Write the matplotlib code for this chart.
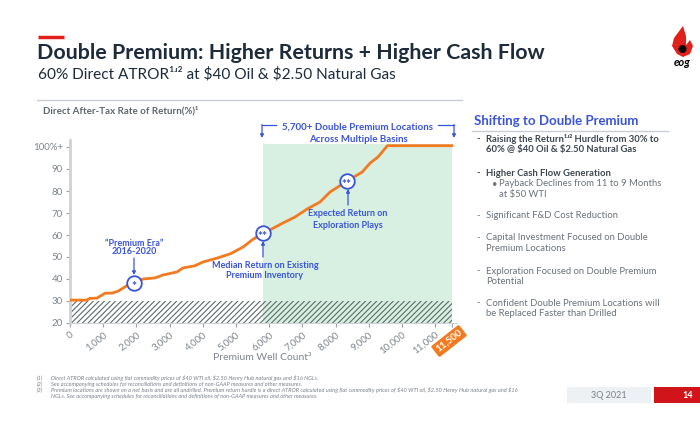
import matplotlib

matplotlib.use("Agg")
import matplotlib.pyplot as plt
from matplotlib.patches import Circle, FancyBboxPatch, PathPatch
from matplotlib.path import Path

plt.rcParams["font.family"] = ["Lato", "DejaVu Sans"]
plt.rcParams["hatch.linewidth"] = 0.8
plt.rcParams["text.parse_math"] = False

# premium well count vs direct ATROR (%)
well_count = [0, 500, 600, 810, 1050, 1270, 1450, 1750, 1930, 2200, 2560, 2800,
              3220, 3400, 3760, 4000, 4430, 4820, 5210, 5480, 5810, 6020, 6420,
              6780, 7140, 7530, 7830, 8340, 8800, 9040, 9280, 9560, 11500]
atror = [30.4, 30.4, 31.2, 31.3, 33.5, 33.6, 34.5, 37.3, 38.2, 40.0, 40.5, 41.8,
         43.2, 45.0, 46.0, 47.7, 49.5, 51.4, 54.5, 57.7, 61.0, 62.3, 65.5,
         68.2, 71.8, 75.0, 79.5, 84.5, 88.6, 92.7, 95.5, 100.6, 100.6]

x_ticks = list(range(0, 11001, 1000))
x_labels = [f"{v:,}" for v in x_ticks]
y_ticks = [20, 30, 40, 50, 60, 70, 80, 90, 100]
y_labels = ["20", "30", "40", "50", "60", "70", "80", "90", "100%+"]

double_premium_start = 5800
total_wells = 11500
hurdle_old = 30

markers = [  # (well count, return, stars)
    (1930, 38.2, "*"),
    (5810, 61.0, "**"),
    (8340, 84.5, "**"),
]

bullets = [
    ("-", ["Raising the Return\u00b9\u02b4\u00b2 Hurdle from 30% to",
           "60% @ $40 Oil & $2.50 Natural Gas"], True),
    ("-", ["Higher Cash Flow Generation"], True),
    ("\u2022", ["Payback Declines from 11 to 9 Months", "at $50 WTI"], False),
    ("-", ["Significant F&D Cost Reduction"], False),
    ("-", ["Capital Investment Focused on Double", "Premium Locations"], False),
    ("-", ["Exploration Focused on Double Premium", "Potential"], False),
    ("-", ["Confident Double Premium Locations will",
           "be Replaced Faster than Drilled"], False),
]
bullet_y = [139, 173, 184, 216, 238, 271, 303]

footnotes = [
    ("(1)", "Direct ATROR calculated using flat commodity prices of $40 WTI oil, $2.50 Henry Hub natural gas and $16 NGLs."),
    ("(2)", "See accompanying schedules for reconciliations and definitions of non-GAAP measures and other measures."),
    ("(3)", "Premium locations are shown on a net basis and are all undrilled. Premium return hurdle is a direct ATROR calculated using flat commodity prices of $40 WTI oil, $2.50 Henry Hub natural gas and $16"),
    ("", "NGLs. See accompanying schedules for reconciliations and definitions of non-GAAP measures and other measures."),
]

NAVY = "#1d2b3b"
GRAY = "#7d858d"
BLUE = "#3a54d6"
ORANGE = "#f37a1f"
GREEN = "#d7f0e2"

W, H = 700, 424
fig = plt.figure(figsize=(W / 100, H / 100), dpi=100)

# main chart axes: x 0 -> px 70, 33.2 px per 1000 wells; y 20 -> px 323, 2.2 px per pt
x_max = 11650
y_min, y_max = 20, 103
ax_left, ax_bottom = 70, 323
ax_w = x_max / 1000 * 33.2
ax_h = (y_max - y_min) * 2.2
ax = fig.add_axes([ax_left / W, 1 - ax_bottom / H, ax_w / W, ax_h / H])
ax.set_xlim(0, x_max)
ax.set_ylim(y_min, y_max)
ax.patch.set_alpha(0)

# overlay in pixel coordinates for the slide text
bg = fig.add_axes([0, 0, 1, 1])
bg.set_xlim(0, W)
bg.set_ylim(H, 0)
bg.axis("off")
bg.set_zorder(10)

ax.fill_between([double_premium_start, total_wells], y_min, 101.4,
                color=GREEN, lw=0, zorder=0)
ax.fill_between([0, total_wells], y_min, hurdle_old, facecolor="none",
                edgecolor="#5d6a6a", hatch="//////", lw=0, zorder=1)
ax.plot(well_count, atror, color=ORANGE, lw=2, zorder=3, solid_joinstyle="round")

for x, y, stars in markers:
    ax.scatter([x], [y], s=110, facecolor="white", edgecolor=BLUE, lw=1.3, zorder=4)
    ax.text(x, y - 1.6, stars, color=BLUE, fontsize=8.5, fontweight="bold",
            ha="center", va="center", zorder=5)

for side in ("top", "right"):
    ax.spines[side].set_visible(False)
ax.spines["left"].set_color("#cfd3d6")
ax.spines["left"].set_linewidth(2)
ax.spines["bottom"].set_color("#cfd3d6")
ax.spines["bottom"].set_linewidth(0.8)
ax.set_yticks(y_ticks)
ax.set_yticklabels(y_labels)
ax.set_xticks(x_ticks + [total_wells])
ax.set_xticklabels(x_labels + [""])
ax.tick_params(axis="y", colors="#9aa0a6", labelcolor=GRAY, labelsize=7,
               length=3, width=0.8, pad=2)
ax.tick_params(axis="x", colors="#9aa0a6", labelcolor=GRAY, labelsize=7,
               length=3, width=0.8, pad=2)
ax.get_xticklines()[-2].set_color(ORANGE)
for lab in ax.get_xticklabels():
    lab.set_rotation(38)
    lab.set_ha("right")
    lab.set_rotation_mode("anchor")

# header
bg.plot([38, 64], [37, 37], color="#e0201b", lw=2.5, solid_capstyle="butt")
bg.text(37, 53, "Double Premium: Higher Returns + Higher Cash Flow", fontsize=15.4,
        fontweight="bold", color=NAVY, va="center")
bg.text(38, 74, "60% Direct ATROR\u00b9\u02b4\u00b2 at $40 Oil & $2.50 Natural Gas",
        fontsize=11.1, color=NAVY, va="center")

# logo: flame + drop + eog
flame = Path([(683, 26), (674, 38), (672, 46), (677, 54), (683, 57), (690, 54),
              (693, 46), (690, 40), (686, 45), (686, 36), (683, 26)],
             [Path.MOVETO] + [Path.LINETO] * 9 + [Path.CLOSEPOLY])
bg.add_patch(PathPatch(flame, facecolor="#e0201b", edgecolor="none"))
bg.add_patch(Circle((682.5, 49), 4, facecolor="black", edgecolor="none"))
bg.text(682, 63, "eog", fontsize=8, fontweight="bold", style="italic",
        color="black", ha="center", va="center")

# chart header
bg.plot([37, 462], [100, 100], color="#c9cdd2", lw=1)
bg.text(43, 111, "Direct After-Tax Rate of Return(%)\u00b9", fontsize=7,
        fontweight="bold", color="#5e666e", va="center")

# 11,500 badge
bg.text(449, 341, "11,500", fontsize=7, fontweight="bold", color="white",
        rotation=38, ha="center", va="center",
        bbox=dict(boxstyle="round,pad=0.25,rounding_size=0.15", fc=ORANGE, ec="none"))

bg.text(262, 358, "Premium Well Count\u00b3", fontsize=7.5, color=GRAY,
        ha="center", va="center")

# annotations
bg.text(134, 243, "\u201cPremium Era\u201d", fontsize=6.5, fontweight="bold",
        color=BLUE, ha="center", va="center")
bg.text(134, 252, "2016-2020", fontsize=6.5, fontweight="bold", color=BLUE,
        ha="center", va="center")
bg.annotate("", xy=(134, 275), xytext=(134, 258),
            arrowprops=dict(arrowstyle="-|>", color=BLUE, lw=0.9, mutation_scale=5,
                            shrinkA=0, shrinkB=0))

bg.annotate("", xy=(263, 241), xytext=(263, 257),
            arrowprops=dict(arrowstyle="-|>", color=BLUE, lw=0.9, mutation_scale=5,
                            shrinkA=0, shrinkB=0))
bg.text(265, 265, "Median Return on Existing", fontsize=6.5, fontweight="bold",
        color=BLUE, ha="center", va="center")
bg.text(265, 276, "Premium Inventory", fontsize=6.5, fontweight="bold",
        color=BLUE, ha="center", va="center")

bg.annotate("", xy=(348, 189), xytext=(348, 205),
            arrowprops=dict(arrowstyle="-|>", color=BLUE, lw=0.9, mutation_scale=5,
                            shrinkA=0, shrinkB=0))
bg.text(348, 214, "Expected Return on", fontsize=6.5, fontweight="bold",
        color=BLUE, ha="center", va="center")
bg.text(348, 225, "Exploration Plays", fontsize=6.5, fontweight="bold",
        color=BLUE, ha="center", va="center")

bg.text(358, 127, "5,700+ Double Premium Locations", fontsize=7, fontweight="bold",
        color=BLUE, ha="center", va="center")
bg.text(358, 139, "Across Multiple Basins", fontsize=7, fontweight="bold",
        color=BLUE, ha="center", va="center")
bg.plot([262, 276], [125, 125], color=BLUE, lw=0.9)
bg.plot([438, 454], [125, 125], color=BLUE, lw=0.9)
for xa in (262, 454):
    bg.annotate("", xy=(xa, 138), xytext=(xa, 124.6),
                arrowprops=dict(arrowstyle="-|>", color=BLUE, lw=0.9,
                                mutation_scale=5, shrinkA=0, shrinkB=0))

# right panel
bg.text(474, 121, "Shifting to Double Premium", fontsize=9.5, fontweight="bold",
        color=BLUE, va="center")
bg.plot([472, 668], [131, 131], color="#c9cdd2", lw=1)
for (mark, lines, bold), y0 in zip(bullets, bullet_y):
    sub = mark != "-"
    mx = 492 if sub else 476
    tx = 499 if sub else 486
    weight = "bold" if bold else "normal"
    color = "#3d4650" if bold else "#6a727a"
    bg.text(mx, y0, mark, fontsize=6.8, color=color, va="center",
            fontweight="bold" if bold else "normal")
    for i, line in enumerate(lines):
        bg.text(tx, y0 + i * 10.8, line, fontsize=6.8, color=color,
                fontweight=weight, va="center")

# footnotes
for i, (num, note) in enumerate(footnotes):
    y0 = 378 + i * 6.2
    bg.text(37, y0, num, fontsize=4.1, style="italic", color="#7a8088", va="center")
    bg.text(51, y0, note, fontsize=4.1, style="italic", color="#7a8088", va="center")

# footer boxes
bg.add_patch(FancyBboxPatch((567, 387), 84, 16, boxstyle="square,pad=0",
                            fc="#eef1f3", ec="none"))
bg.text(609, 395, "3Q 2021", fontsize=6.5, color="#7a8088", ha="center", va="center")
bg.add_patch(FancyBboxPatch((654, 387), 46, 16, boxstyle="square,pad=0",
                            fc="#d0141a", ec="none"))
bg.text(688, 395, "14", fontsize=6.5, fontweight="bold", color="white",
        ha="center", va="center")

fig.savefig("out.png", dpi=100)
